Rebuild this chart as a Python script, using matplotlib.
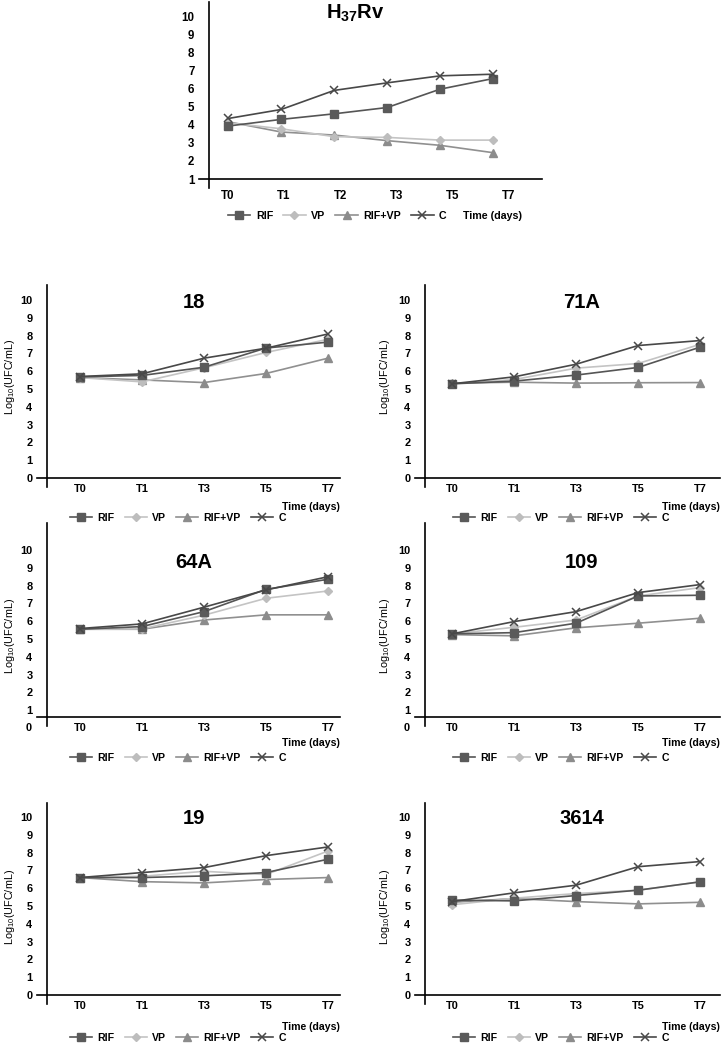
import matplotlib.pyplot as plt
from matplotlib.lines import Line2D
import numpy as np

plt.rcParams['font.family'] = ['Liberation Sans', 'DejaVu Sans']
plt.rcParams['mathtext.fontset'] = 'custom'
plt.rcParams['mathtext.rm'] = 'Liberation Sans'
plt.rcParams['mathtext.bf'] = 'Liberation Sans:bold'

W, H = 722, 1044

# categorias
series = ['RIF', 'VP', 'RIF+VP', 'C']
tempos_h37 = ['T0', 'T1', 'T2', 'T3', 'T5', 'T7']
tempos = ['T0', 'T1', 'T3', 'T5', 'T7']

# H37Rv
h37_rif = [3.94, 4.31, 4.62, 4.97, 5.99, 6.58]
h37_vp = [4.12, 3.79, 3.35, 3.31, 3.16, 3.16]
h37_rifvp = [4.18, 3.61, 3.44, 3.13, 2.87, 2.46]
h37_c = [4.36, 4.86, 5.92, 6.34, 6.73, 6.82]

# 18
c18_rif = [5.68, 5.76, 6.22, 7.30, 7.63]
c18_vp = [5.64, 5.40, 6.19, 7.05, 7.79]
c18_rifvp = [5.64, 5.51, 5.36, 5.87, 6.73]
c18_c = [5.70, 5.85, 6.73, 7.29, 8.09]

# 71A
c71a_rif = [5.29, 5.44, 5.78, 6.21, 7.35]
c71a_vp = [5.29, 5.53, 6.17, 6.43, 7.51]
c71a_rifvp = [5.33, 5.38, 5.33, 5.35, 5.36]
c71a_c = [5.29, 5.68, 6.39, 7.44, 7.72]

# 64A
c64a_rif = [5.55, 5.70, 6.54, 7.79, 8.36]
c64a_vp = [5.55, 5.57, 6.34, 7.29, 7.70]
c64a_rifvp = [5.55, 5.55, 6.07, 6.36, 6.36]
c64a_c = [5.59, 5.85, 6.79, 7.76, 8.50]

# 109
c109_rif = [5.29, 5.36, 5.89, 7.42, 7.46]
c109_vp = [5.29, 5.66, 6.07, 7.42, 7.89]
c109_rifvp = [5.25, 5.18, 5.63, 5.89, 6.17]
c109_c = [5.29, 5.98, 6.54, 7.61, 8.06]

# 19
c19_rif = [6.60, 6.60, 6.69, 6.88, 7.63]
c19_vp = [6.60, 6.67, 6.95, 6.77, 8.09]
c19_rifvp = [6.60, 6.37, 6.30, 6.49, 6.60]
c19_c = [6.60, 6.88, 7.16, 7.83, 8.32]

# 3614
c3614_rif = [5.33, 5.29, 5.59, 5.89, 6.36]
c3614_vp = [5.07, 5.44, 5.70, 5.89, 6.36]
c3614_rifvp = [5.21, 5.42, 5.25, 5.12, 5.21]
c3614_c = [5.25, 5.74, 6.17, 7.21, 7.50]

# estilo de cada serie
estilos = {
    'RIF': dict(color='#555555', marker='s', ms=5.5, mfc='#5a5a5a', mec='#5a5a5a', zorder=5),
    'VP': dict(color='#c4c4c4', marker='D', ms=4.2, mfc='#bdbdbd', mec='#bdbdbd', zorder=4),
    'RIF+VP': dict(color='#909090', marker='^', ms=6, mfc='#8c8c8c', mec='#8c8c8c', zorder=3),
    'C': dict(color='#484848', marker='x', ms=6, mew=1.1, mec='#484848', zorder=6),
}

fig = plt.figure(figsize=(W / 100, H / 100), dpi=100)


def fx(x):
    return x / W


def fy(y):
    return 1 - y / H


def linha(x0, x1, y0, y1):
    fig.add_artist(Line2D([fx(x0), fx(x1)], [fy(y0), fy(y1)], color='black', lw=1.2))


def painel(titulo, rotulos, dados, px, py, xlim, ylim, yticks, tick_esp=1.0,
           fs=7.9, xpad=4.2, titulo_xy=None, titulo_fs=14.5):
    x0, x1 = px
    ytop, yaxis = py
    ax = fig.add_axes([fx(x0), fy(yaxis), (x1 - x0) / W, (yaxis - ytop) / H])
    pos = np.arange(len(rotulos))
    for nome, vals in zip(series, dados):
        ax.plot(pos, vals, lw=1.2, label=nome, clip_on=False, **estilos[nome])
    ax.set_xlim(*xlim)
    ax.set_ylim(*ylim)
    ax.set_xticks(pos * tick_esp)
    ax.set_xticklabels(rotulos, fontsize=fs, fontweight='bold')
    ax.set_yticks(yticks)
    ax.set_yticklabels([str(v) for v in yticks], fontsize=fs, fontweight='bold')
    ax.tick_params(length=0)
    ax.tick_params(axis='y', pad=10.5)
    ax.tick_params(axis='x', pad=xpad)
    for s in ax.spines.values():
        s.set_visible(False)
    ax.patch.set_alpha(0)
    # eixos cruzados
    linha(x0 - 10, x1, yaxis, yaxis)
    linha(x0, x0, ytop, yaxis + 9)
    if titulo_xy is not None:
        fig.text(fx(titulo_xy[0]), fy(titulo_xy[1]), titulo, fontsize=titulo_fs,
                 fontweight='bold', ha='center', va='center')
    return ax


def legenda(ax, x, y, fs=7.6):
    h, l = ax.get_legend_handles_labels()
    leg = fig.legend(h, l, loc='center left', bbox_to_anchor=(fx(x), fy(y)),
                     bbox_transform=fig.transFigure, ncol=4, frameon=False,
                     borderpad=0, borderaxespad=0, handlelength=2.1,
                     handletextpad=0.5, columnspacing=0.95,
                     prop={'size': fs, 'weight': 'bold'})
    return leg


def tempo_txt(x, y, fs=7.6, ha='right'):
    fig.text(fx(x), fy(y), 'Time (days)', fontsize=fs, fontweight='bold', ha=ha, va='center')


def ylabel(x, y):
    fig.text(fx(x), fy(y), r'Log$_{10}$(UFC/mL)', fontsize=7.8, rotation=90,
             ha='center', va='center')


# painel superior H37Rv
ax = painel(r'H$_{\mathbf{37}}$Rv', tempos_h37, [h37_rif, h37_vp, h37_rifvp, h37_c],
            (209, 542), (2, 179), (-0.36, 5.92), (1, 10.83), list(range(1, 11)),
            tick_esp=56 / 53, fs=8.3, xpad=8.0, titulo_xy=None)
fig.text(fx(355), fy(13), r'$\mathbf{H_{37}Rv}$', fontsize=14.5, ha='center', va='center')
legenda(ax, 228, 216, fs=7.7)
tempo_txt(463, 216, fs=7.7, ha='left')

# grade 3 x 2
col_x = [(47, 340), (425, 720)]
col_xlim = [(-0.532, 4.194), (-0.435, 4.32)]
col_tit = [194, 582]
col_leg = [70, 453]
col_ylab = [10, 385]

linhas = [
    dict(py=(285, 478), ylim=(0, 10.84), tit=303, tempo=507, leg=518, ylab=377),
    dict(py=(523, 717), ylim=(0.62, 11.52), tit=563, tempo=743, leg=758, ylab=636),
    dict(py=(803, 995), ylim=(0, 10.79), tit=819, tempo=1027, leg=1038, ylab=907),
]

paineis = [
    ('18', [c18_rif, c18_vp, c18_rifvp, c18_c]),
    ('71A', [c71a_rif, c71a_vp, c71a_rifvp, c71a_c]),
    ('64A', [c64a_rif, c64a_vp, c64a_rifvp, c64a_c]),
    ('109', [c109_rif, c109_vp, c109_rifvp, c109_c]),
    ('19', [c19_rif, c19_vp, c19_rifvp, c19_c]),
    ('3614', [c3614_rif, c3614_vp, c3614_rifvp, c3614_c]),
]

for i, (nome, dados) in enumerate(paineis):
    r, c = divmod(i, 2)
    ln = linhas[r]
    ticks = [v for v in range(0, 11) if v >= ln['ylim'][0]]
    ax = painel(nome, tempos, dados, col_x[c], ln['py'], col_xlim[c], ln['ylim'], ticks,
                titulo_xy=(col_tit[c], ln['tit']))
    if ln['ylim'][0] > 0:
        # rotulo 0 abaixo da linha do eixo
        fig.text(fx(col_x[c][0] - 15), fy(728), '0', fontsize=7.9, fontweight='bold',
                 ha='right', va='center')
    legenda(ax, col_leg[c], ln['leg'])
    tempo_txt(col_x[c][1], ln['tempo'])
    ylabel(col_ylab[c], ln['ylab'])

fig.savefig('out.png', dpi=100)
